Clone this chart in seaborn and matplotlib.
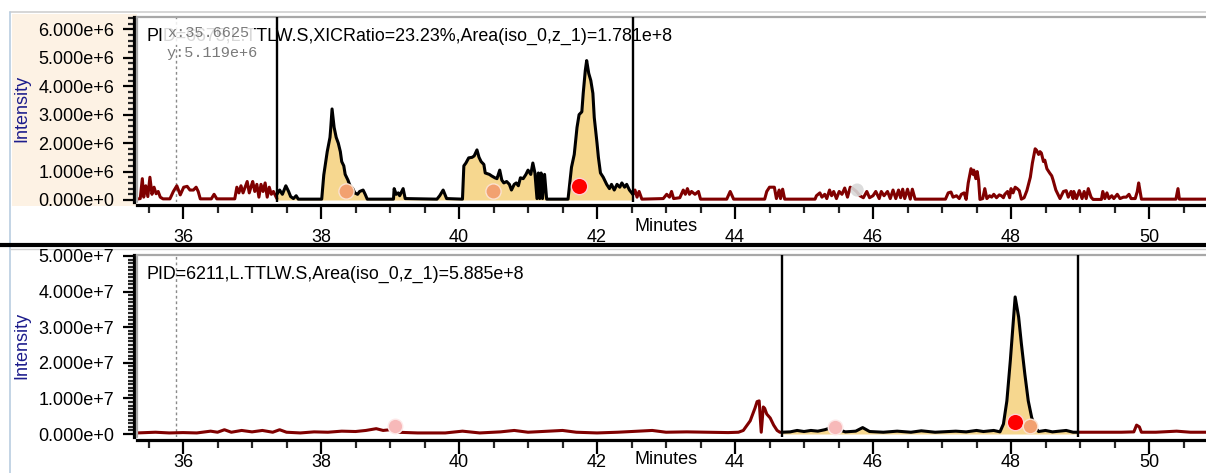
import numpy as np
import pandas as pd
import matplotlib
matplotlib.use("Agg")
import matplotlib.pyplot as plt
import seaborn as sns
from matplotlib.patches import Rectangle
from matplotlib.lines import Line2D
from matplotlib.ticker import MultipleLocator

sns.set_style("white")
plt.rcParams['font.family'] = ['Liberation Sans', 'DejaVu Sans']

# ---------------- data ----------------
# Top chromatogram (intensity in units of 1e6)
top_scale = 1e6
top_pre_t = [35.33, 35.38, 35.41, 35.43, 35.46, 35.49, 35.52, 35.55, 35.58, 35.61, 35.64, 35.67, 35.71,
             35.81, 35.86, 35.91, 35.96, 36.01, 36.06, 36.10, 36.15, 36.19, 36.22, 36.25, 36.41, 36.45,
             36.49, 36.75, 36.78, 36.81, 36.84, 36.87, 36.90, 36.93, 36.96, 36.99, 37.01, 37.04, 37.07,
             37.10, 37.13, 37.16, 37.19, 37.22, 37.25, 37.28, 37.31, 37.36]
top_pre_i = [0.03, 0.05, 0.75, 0.10, 0.50, 0.12, 0.80, 0.20, 0.45, 0.22, 0.30, 0.10, 0.04,
             0.04, 0.30, 0.50, 0.18, 0.45, 0.48, 0.35, 0.35, 0.45, 0.30, 0.04, 0.04, 0.20,
             0.04, 0.04, 0.45, 0.25, 0.50, 0.25, 0.45, 0.65, 0.25, 0.50, 0.65, 0.30, 0.55,
             0.10, 0.55, 0.30, 0.60, 0.10, 0.45, 0.20, 0.30, 0.05]
top_win_t = [37.36, 37.40, 37.44, 37.49, 37.53, 37.56, 37.60, 37.64, 37.67, 38.01, 38.04, 38.09, 38.13,
             38.14, 38.16, 38.19, 38.22, 38.25, 38.28, 38.30, 38.33, 38.35, 38.39, 38.42, 38.46, 38.49,
             38.53, 38.56, 38.61, 38.64, 38.67, 39.05, 39.06, 39.09, 39.12, 39.14, 39.19, 39.22, 39.68,
             39.72, 39.77, 39.82, 40.05, 40.07, 40.10, 40.14, 40.19, 40.22, 40.26, 40.29, 40.32, 40.36,
             40.38, 40.44, 40.47, 40.52, 40.55, 40.59, 40.62, 40.65, 40.69, 40.73, 40.76, 40.80, 40.83,
             40.86, 40.89, 40.93, 40.97, 41.00, 41.04, 41.07, 41.10, 41.13, 41.15, 41.17, 41.19, 41.21,
             41.24, 41.27, 41.58, 41.63, 41.67, 41.71, 41.74, 41.78, 41.80, 41.83, 41.85, 41.88, 41.91,
             41.94, 41.96, 42.00, 42.02, 42.05, 42.09, 42.14, 42.18, 42.21, 42.25, 42.29, 42.33, 42.36,
             42.40, 42.43, 42.47, 42.52]
top_win_i = [0.20, 0.35, 0.20, 0.50, 0.30, 0.12, 0.05, 0.15, 0.03, 0.03, 0.88, 1.70, 2.20,
             2.50, 3.20, 2.55, 2.20, 2.00, 1.70, 1.35, 1.20, 0.90, 0.70, 0.50, 0.40, 0.25,
             0.20, 0.30, 0.35, 0.20, 0.03, 0.03, 0.40, 0.20, 0.25, 0.15, 0.40, 0.05, 0.03,
             0.15, 0.35, 0.05, 0.03, 1.20, 1.30, 1.48, 1.50, 1.55, 1.76, 1.50, 1.35, 1.25,
             0.95, 0.90, 0.85, 0.78, 0.75, 1.05, 0.70, 0.60, 0.65, 0.55, 0.35, 0.55, 0.60,
             0.50, 0.78, 0.75, 0.90, 1.05, 0.90, 1.30, 0.95, 0.05, 0.95, 0.05, 0.95, 0.05,
             0.90, 0.03, 0.03, 1.15, 1.60, 2.55, 3.00, 3.10, 3.75, 4.55, 4.90, 4.45, 4.20,
             3.75, 2.90, 2.00, 1.50, 0.95, 0.80, 0.55, 0.40, 0.55, 0.35, 0.55, 0.45, 0.60,
             0.45, 0.55, 0.35, 0.20]
top_post_t = [42.52, 42.55, 42.58, 42.61, 42.65, 42.96, 43.01, 43.05, 43.08, 43.11, 43.20, 43.25, 43.28,
              43.31, 43.34, 43.37, 43.42, 43.47, 43.50, 43.88, 43.93, 43.98, 44.43, 44.46, 44.50, 44.57,
              44.60, 44.64, 44.66, 44.69, 44.72, 45.16, 45.18, 45.23, 45.26, 45.30, 45.33, 45.37, 45.40,
              45.43, 45.47, 45.51, 45.55, 45.59, 45.63, 45.67, 45.71, 45.76, 45.81, 45.86, 45.91, 45.95,
              46.00, 46.04, 46.09, 46.12, 46.16, 46.21, 46.25, 46.29, 46.33, 46.37, 46.40, 46.43, 46.46,
              46.50, 46.54, 46.57, 46.61, 47.05, 47.09, 47.13, 47.16, 47.21, 47.25, 47.28, 47.32, 47.35,
              47.38, 47.42, 47.45, 47.46, 47.49, 47.51, 47.53, 47.55, 47.59, 47.62, 47.65, 47.69, 47.72,
              47.75, 47.79, 47.83, 47.86, 47.89, 47.91, 47.95, 47.98, 48.00, 48.03, 48.06, 48.09, 48.12,
              48.15, 48.19, 48.23, 48.28, 48.31, 48.35, 48.37, 48.40, 48.42, 48.44, 48.47, 48.49, 48.52,
              48.56, 48.59, 48.61, 48.65, 48.71, 48.76, 48.80, 48.83, 48.87, 48.90, 48.91, 48.95, 48.99,
              49.03, 49.06, 49.09, 49.12, 49.16, 49.19, 49.31, 49.33, 49.36, 49.39, 49.42, 49.46, 49.49,
              49.54, 49.58, 49.63, 49.67, 49.71, 49.74, 49.80, 49.83, 49.85, 49.89, 50.39, 50.42, 50.44,
              50.85]
top_post_i = [0.20, 0.35, 0.10, 0.30, 0.03, 0.05, 0.20, 0.10, 0.30, 0.05, 0.08, 0.35, 0.20,
              0.40, 0.20, 0.30, 0.20, 0.30, 0.03, 0.03, 0.30, 0.03, 0.03, 0.30, 0.45, 0.45,
              0.05, 0.35, 0.05, 0.38, 0.03, 0.03, 0.15, 0.25, 0.10, 0.20, 0.05, 0.35, 0.15,
              0.30, 0.05, 0.30, 0.20, 0.42, 0.10, 0.45, 0.40, 0.30, 0.15, 0.08, 0.30, 0.08,
              0.15, 0.30, 0.05, 0.30, 0.15, 0.30, 0.05, 0.35, 0.05, 0.35, 0.08, 0.38, 0.05,
              0.38, 0.03, 0.38, 0.03, 0.03, 0.25, 0.28, 0.10, 0.15, 0.05, 0.20, 0.25, 0.02,
              0.60, 1.10, 0.90, 1.05, 0.75, 1.00, 0.70, 0.02, 0.05, 0.40, 0.05, 0.15, 0.10,
              0.20, 0.08, 0.18, 0.15, 0.08, 0.20, 0.30, 0.08, 0.40, 0.25, 0.45, 0.40, 0.33,
              0.03, 0.08, 0.33, 0.80, 1.30, 1.80, 1.75, 1.60, 1.70, 1.65, 1.35, 1.40, 1.10,
              0.95, 0.85, 0.70, 0.35, 0.05, 0.30, 0.33, 0.10, 0.30, 0.05, 0.30, 0.05, 0.33,
              0.05, 0.30, 0.05, 0.40, 0.10, 0.02, 0.02, 0.30, 0.05, 0.25, 0.05, 0.15, 0.05,
              0.20, 0.05, 0.10, 0.10, 0.20, 0.05, 0.05, 0.30, 0.60, 0.03, 0.03, 0.40, 0.03,
              0.03]
top_window = [37.36, 42.52]
top_marker_t = [38.36, 40.49, 41.74]
top_marker_i = [0.33, 0.33, 0.49]
top_ghost_t = [45.77]
top_ghost_i = [0.35]

# Bottom chromatogram (intensity in units of 1e7)
bot_scale = 1e7
bot_pre_t = [35.33, 35.60, 35.80, 36.00, 36.20, 36.40, 36.50, 36.60, 36.70, 36.85, 37.00, 37.15, 37.30,
             37.40, 37.50, 37.70, 37.90, 38.10, 38.30, 38.50, 38.65, 38.80, 38.90, 39.00, 39.10, 39.40,
             39.80, 40.05, 40.30, 40.60, 40.80, 41.00, 41.30, 41.50, 41.70, 42.00, 42.30, 42.60, 42.80,
             43.00, 43.30, 43.60, 43.90, 44.05, 44.12, 44.22, 44.29, 44.32, 44.35, 44.38, 44.41, 44.43,
             44.46, 44.51, 44.56, 44.61, 44.65, 44.68]
bot_pre_i = [0.03, 0.05, 0.03, 0.04, 0.03, 0.08, 0.05, 0.12, 0.05, 0.10, 0.06, 0.10, 0.05,
             0.12, 0.05, 0.03, 0.06, 0.05, 0.08, 0.07, 0.10, 0.15, 0.10, 0.12, 0.05, 0.03,
             0.03, 0.08, 0.03, 0.06, 0.10, 0.05, 0.08, 0.10, 0.05, 0.03, 0.05, 0.08, 0.10,
             0.05, 0.06, 0.05, 0.04, 0.05, 0.10, 0.37, 0.73, 0.91, 0.93, 0.05, 0.76, 0.72,
             0.56, 0.45, 0.25, 0.10, 0.05, 0.05]
bot_win_t = [44.68, 44.80, 44.90, 45.00, 45.10, 45.20, 45.30, 45.40, 45.50, 45.60, 45.75, 45.85, 45.95,
             46.15, 46.35, 46.55, 46.70, 46.90, 47.20, 47.35, 47.50, 47.60, 47.75, 47.84, 47.89, 47.94,
             47.99, 48.06, 48.11, 48.15, 48.20, 48.25, 48.30, 48.35, 48.40, 48.50, 48.60, 48.70, 48.80,
             48.90, 48.97]
bot_win_i = [0.05, 0.06, 0.10, 0.07, 0.10, 0.08, 0.12, 0.18, 0.12, 0.06, 0.08, 0.18, 0.07,
             0.05, 0.08, 0.05, 0.09, 0.05, 0.08, 0.06, 0.10, 0.07, 0.10, 0.06, 0.28, 0.93,
             2.06, 3.85, 3.29, 2.54, 1.69, 0.93, 0.46, 0.18, 0.07, 0.10, 0.06, 0.08, 0.10,
             0.05, 0.05]
bot_post_t = [48.97, 49.30, 49.60, 49.78, 49.82, 49.86, 49.89, 50.10, 50.40, 50.60, 50.85]
bot_post_i = [0.05, 0.05, 0.05, 0.06, 0.25, 0.20, 0.05, 0.05, 0.08, 0.05, 0.05]
bot_window = [44.68, 48.97]
bot_marker_t = [39.07, 45.45, 48.06, 48.28]
bot_marker_i = [0.23, 0.21, 0.35, 0.23]

cursor_x = 35.90

x_ticks = [36, 38, 40, 42, 44, 46, 48, 50]
x_tick_labels = ["36", "38", "40", "42", "44", "46", "48", "50"]
top_y_ticks = [0, 1e6, 2e6, 3e6, 4e6, 5e6, 6e6]
top_y_labels = ["0.000e+0", "1.000e+6", "2.000e+6", "3.000e+6", "4.000e+6", "5.000e+6", "6.000e+6"]
bot_y_ticks = [0, 1e7, 2e7, 3e7, 4e7, 5e7]
bot_y_labels = ["0.000e+0", "1.000e+7", "2.000e+7", "3.000e+7", "4.000e+7", "5.000e+7"]

top_title = "PID=6675,L.TTLW.S,XICRatio=23.23%,Area(iso_0,z_1)=1.781e+8"
bot_title = "PID=6211,L.TTLW.S,Area(iso_0,z_1)=5.885e+8"
cursor_lines = ["x:35.6625", "y:5.119e+6"]

# ---------------- style ----------------
MAROON = "#800000"
FILL = "#f6d78f"
FRAME = "#a8a8a8"
W, H = 1206, 473


def fx(px):
    return px / W


def fy(py):
    return 1 - py / H


fig = plt.figure(figsize=(W / 100, H / 100), dpi=100)
fig.patch.set_facecolor("white")

# background decorations (behind the axes)
fig.patches.append(Rectangle((fx(12), fy(206)), fx(137) - fx(12), fy(14) - fy(206),
                             transform=fig.transFigure, facecolor="#fdf2e4", edgecolor="none", zorder=-5))
fig.lines.append(Line2D([fx(10), 1], [fy(12), fy(12)], transform=fig.transFigure, color="#cfcfcf", lw=1.2,
                        zorder=-4))
fig.lines.append(Line2D([fx(10), fx(10)], [fy(12), 0], transform=fig.transFigure, color="#b9cde0", lw=1.2,
                        zorder=-4))
fig.lines.append(Line2D([0, 1], [fy(245), fy(245)], transform=fig.transFigure, color="black", lw=3.0))
fig.lines.append(Line2D([fx(10), 1], [fy(249), fy(249)], transform=fig.transFigure, color="#d0d0d0", lw=1.0,
                        zorder=-4))

xlim = (35.333, 50.826)

ax_top = fig.add_axes([fx(137), fy(202), 1 - fx(137), fy(17) - fy(202)])
ax_bot = fig.add_axes([fx(137), fy(437), 1 - fx(137), fy(255) - fy(437)])


def style_axes(ax, yticks, ylabels, yminor, xpad):
    ax.set_xlim(*xlim)
    ax.set_facecolor("white")
    ax.patch.set_zorder(-1)
    ax.spines["right"].set_visible(False)
    ax.spines["top"].set_color(FRAME)
    ax.spines["top"].set_linewidth(1.6)
    ax.plot([0, 0], [0, 1], transform=ax.transAxes, color=FRAME, lw=1.6, clip_on=False, zorder=6)
    ax.spines["left"].set_position(("outward", 2.5))
    ax.spines["bottom"].set_position(("outward", 2.5))
    ax.spines["left"].set_color("black")
    ax.spines["bottom"].set_color("black")
    ax.spines["left"].set_linewidth(2.3)
    ax.spines["bottom"].set_linewidth(2.3)
    ax.set_xticks(x_ticks)
    ax.set_xticklabels(x_tick_labels)
    ax.xaxis.set_minor_locator(MultipleLocator(0.5))
    ax.set_yticks(yticks)
    ax.set_yticklabels(ylabels)
    ax.yaxis.set_minor_locator(MultipleLocator(yminor))
    ax.tick_params(axis="x", which="major", direction="out", length=10, width=1.6,
                   pad=xpad, labelsize=13, colors="black", bottom=True)
    ax.tick_params(axis="x", which="minor", direction="out", length=5.5, width=1.6, bottom=True)
    ax.tick_params(axis="y", which="major", direction="out", length=8, width=1.6,
                   pad=6, labelsize=13, colors="black", left=True)
    ax.tick_params(axis="y", which="minor", direction="out", length=4, width=1.6, left=True)
    ax.set_xlabel("")
    ax.set_ylabel("")


def draw_panel(ax, pre_t, pre_i, win_t, win_i, post_t, post_i, scale, window):
    pre_y = np.array(pre_i) * scale
    win_y = np.array(win_i) * scale
    post_y = np.array(post_i) * scale
    ax.fill_between(win_t, 0, win_y, color=FILL, lw=0, zorder=1)
    sns.lineplot(x=pre_t, y=pre_y, ax=ax, color=MAROON, lw=2.2, estimator=None, sort=False, zorder=3)
    sns.lineplot(x=post_t, y=post_y, ax=ax, color=MAROON, lw=2.2, estimator=None, sort=False, zorder=3)
    sns.lineplot(x=win_t, y=win_y, ax=ax, color="black", lw=2.2, estimator=None, sort=False, zorder=3)
    for wx in window:
        ax.axvline(wx, color="black", lw=1.7, zorder=4)
    ax.axvline(cursor_x, color="#8a8a8a", lw=1.0, ls=(0, (2, 2)), zorder=2)


# top panel
draw_panel(ax_top, top_pre_t, top_pre_i, top_win_t, top_win_i, top_post_t, top_post_i, top_scale, top_window)
sns.scatterplot(x=top_marker_t[:2], y=np.array(top_marker_i[:2]) * top_scale, ax=ax_top, s=120,
                color="#f2a170", edgecolor="#fbe2d0", linewidth=1.0, zorder=5, legend=False)
sns.scatterplot(x=top_marker_t[2:], y=np.array(top_marker_i[2:]) * top_scale, ax=ax_top, s=140,
                color="#ff0000", edgecolor="#ffd0d0", linewidth=1.0, zorder=5, legend=False)
sns.scatterplot(x=top_ghost_t, y=np.array(top_ghost_i) * top_scale, ax=ax_top, s=90,
                color="#d9d9d9", edgecolor="none", alpha=0.9, zorder=5, legend=False)
ax_top.set_ylim(-0.0703e6, 6.432e6)
style_axes(ax_top, top_y_ticks, top_y_labels, 0.2e6, 7)

# bottom panel
draw_panel(ax_bot, bot_pre_t, bot_pre_i, bot_win_t, bot_win_i, bot_post_t, bot_post_i, bot_scale, bot_window)
sns.scatterplot(x=[bot_marker_t[0], bot_marker_t[1]], y=np.array([bot_marker_i[0], bot_marker_i[1]]) * bot_scale,
                ax=ax_bot, s=110, color="#f7b9b9", edgecolor="#fde8e8", linewidth=1.0, zorder=5, legend=False)
sns.scatterplot(x=[bot_marker_t[2]], y=[bot_marker_i[2] * bot_scale], ax=ax_bot, s=140,
                color="#ff0000", edgecolor="#ffd0d0", linewidth=1.0, zorder=5, legend=False)
sns.scatterplot(x=[bot_marker_t[3]], y=[bot_marker_i[3] * bot_scale], ax=ax_bot, s=110,
                color="#f2a170", edgecolor="#fbe2d0", linewidth=1.0, zorder=6, legend=False)
ax_bot.set_ylim(-0.084e7, 5.028e7)
style_axes(ax_bot, bot_y_ticks, bot_y_labels, 0.1e7, 0)

# texts
fig.text(fx(147), fy(41), top_title, fontsize=12.9, ha="left", va="baseline", color="black", zorder=10)
fig.text(fx(147), fy(279), bot_title, fontsize=12.9, ha="left", va="baseline", color="black", zorder=10)
fig.text(fx(167), fy(37), cursor_lines[0], fontsize=11, family=["Liberation Mono", "DejaVu Sans Mono"],
         color="#7a7a7a", ha="left", va="baseline", zorder=11,
         bbox=dict(facecolor="white", alpha=0.85, edgecolor="none", boxstyle="square,pad=0.3"))
fig.text(fx(167), fy(57), cursor_lines[1], fontsize=11, family=["Liberation Mono", "DejaVu Sans Mono"],
         color="#7a7a7a", ha="left", va="baseline", zorder=11)

fig.text(fx(666), fy(226), "Minutes", fontsize=13, ha="center", va="center", color="black")
fig.text(fx(666), fy(459), "Minutes", fontsize=13, ha="center", va="center", color="black")
fig.text(fx(22), fy(108), "Intensity", fontsize=13, rotation=90, ha="center", va="center", color="#1c1c8c")
fig.text(fx(22), fy(345), "Intensity", fontsize=13, rotation=90, ha="center", va="center", color="#1c1c8c")

fig.savefig("out.png", dpi=100, facecolor="white")
